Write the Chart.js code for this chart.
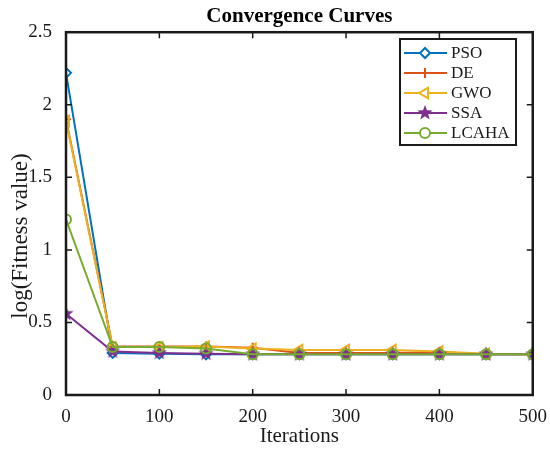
<!DOCTYPE html>
<html>
<head>
<meta charset="utf-8">
<script src="https://cdn.jsdelivr.net/npm/chart.js@4"></script>
<style>
  html, body { margin: 0; padding: 0; background: #fff; }
  #wrap { width: 550px; height: 450px; }
</style>
</head>
<body>
<div id="wrap"><canvas id="myChart" width="550" height="450"></canvas></div>
<script>
// iterations on x axis
const iterations = [0, 50, 100, 150, 200, 250, 300, 350, 400, 450, 500];

// log(fitness) per algorithm
const pso   = [2.22, 0.29, 0.285, 0.28, 0.28, 0.28, 0.28, 0.28, 0.28, 0.28, 0.28];
const de    = [1.90, 0.335, 0.335, 0.335, 0.325, 0.29, 0.29, 0.29, 0.295, 0.28, 0.28];
const gwo   = [1.89, 0.33, 0.33, 0.335, 0.32, 0.31, 0.31, 0.31, 0.30, 0.285, 0.28];
const ssa   = [0.56, 0.30, 0.29, 0.285, 0.28, 0.28, 0.28, 0.28, 0.28, 0.28, 0.28];
const lcaha = [1.21, 0.33, 0.33, 0.32, 0.28, 0.28, 0.28, 0.28, 0.28, 0.28, 0.28];

const seriesNames = ['PSO', 'DE', 'GWO', 'SSA', 'LCAHA'];
const yTicks = [0, 0.5, 1, 1.5, 2, 2.5];
const xTicks = [0, 100, 200, 300, 400, 500];
const yTitle = 'log(Fitness value)';

const FONT = '"Liberation Serif", "Times New Roman", serif';

// filled pentagram marker for SSA
function makeStar(color, r) {
  const c = document.createElement('canvas');
  const s = r * 2 + 2;
  c.width = s; c.height = s;
  const g = c.getContext('2d');
  g.fillStyle = color;
  g.beginPath();
  for (let i = 0; i < 10; i++) {
    const rad = i % 2 === 0 ? r : r * 0.42;
    const a = -Math.PI / 2 + i * Math.PI / 5;
    const px = s / 2 + rad * Math.cos(a);
    const py = s / 2 + rad * Math.sin(a);
    if (i === 0) g.moveTo(px, py); else g.lineTo(px, py);
  }
  g.closePath();
  g.fill();
  return c;
}
const starImg = makeStar('#7E2F8E', 8);

function pts(arr) {
  return arr.map((v, i) => ({ x: iterations[i], y: v }));
}

const styles = [
  { color: '#0072BD', pointStyle: 'rectRot', radius: 5, rotation: 0 },
  { color: '#D95319', pointStyle: 'cross', radius: 5, rotation: 0 },
  { color: '#EDB120', pointStyle: 'triangle', radius: 6, rotation: -90 },
  { color: '#7E2F8E', pointStyle: starImg, radius: 8, rotation: 0 },
  { color: '#77AC30', pointStyle: 'circle', radius: 5, rotation: 0 }
];
const values = [pso, de, gwo, ssa, lcaha];

const datasets = values.map((v, i) => ({
  label: seriesNames[i],
  data: pts(v),
  borderColor: styles[i].color,
  backgroundColor: 'rgba(0,0,0,0)',
  pointBorderColor: styles[i].color,
  pointBackgroundColor: 'rgba(0,0,0,0)',
  pointStyle: styles[i].pointStyle,
  pointRadius: styles[i].radius,
  pointRotation: styles[i].rotation,
  pointBorderWidth: 2,
  borderWidth: 2,
  tension: 0,
  order: 5 - i
}));

// frame with inward ticks (matlab look) + y label
const frame = {
  id: 'frame',
  afterDatasetsDraw(chart) {
    const { ctx, chartArea: a, scales } = chart;
    ctx.save();
    ctx.strokeStyle = '#1a1a1a';
    ctx.lineWidth = 1.5;
    ctx.beginPath();
    xTicks.forEach(t => {
      const x = scales.x.getPixelForValue(t);
      ctx.moveTo(x, a.bottom); ctx.lineTo(x, a.bottom - 6);
      ctx.moveTo(x, a.top); ctx.lineTo(x, a.top + 6);
    });
    yTicks.forEach(t => {
      const y = scales.y.getPixelForValue(t);
      ctx.moveTo(a.left, y); ctx.lineTo(a.left + 6, y);
      ctx.moveTo(a.right, y); ctx.lineTo(a.right - 6, y);
    });
    ctx.stroke();
    ctx.lineWidth = 2.5;
    ctx.strokeRect(a.left, a.top, a.right - a.left, a.bottom - a.top);

    // y axis label, sits a bit below the middle like in the figure
    ctx.translate(21, 236);
    ctx.rotate(-Math.PI / 2);
    ctx.fillStyle = '#1a1a1a';
    ctx.font = '23px ' + FONT;
    ctx.textAlign = 'center';
    ctx.textBaseline = 'middle';
    ctx.fillText(yTitle, 0, 0);
    ctx.restore();
  }
};

// legend box in the upper right corner
const boxLegend = {
  id: 'boxLegend',
  afterDraw(chart) {
    const { ctx } = chart;
    const bx = 400, by = 39, bw = 116, bh = 106;
    ctx.save();
    ctx.fillStyle = '#fff';
    ctx.fillRect(bx, by, bw, bh);
    ctx.strokeStyle = '#1a1a1a';
    ctx.lineWidth = 2;
    ctx.strokeRect(bx, by, bw, bh);
    chart.data.datasets.forEach((ds, i) => {
      const y = by + 14 + i * 20;
      ctx.strokeStyle = ds.borderColor;
      ctx.lineWidth = 2;
      ctx.beginPath();
      ctx.moveTo(bx + 4, y); ctx.lineTo(bx + 47, y);
      ctx.stroke();
      ctx.fillStyle = '#fff';
      Chart.helpers.drawPoint(ctx, {
        pointStyle: ds.pointStyle,
        radius: ds.pointRadius,
        rotation: ds.pointRotation,
        borderWidth: 2
      }, bx + 25, y);
      ctx.fillStyle = '#1a1a1a';
      ctx.font = '17px ' + FONT;
      ctx.textBaseline = 'middle';
      ctx.fillText(ds.label, bx + 51, y + 1);
    });
    ctx.restore();
  }
};

const ctx = document.getElementById('myChart').getContext('2d');
const myChart = new Chart(ctx, {
  type: 'line',
  data: { datasets: datasets },
  options: {
    responsive: false,
    animation: false,
    layout: { padding: { left: 0, right: 15, top: 0, bottom: 0 } },
    plugins: {
      legend: { display: false },
      tooltip: { enabled: false },
      title: {
        display: true,
        text: 'Convergence Curves',
        color: '#000',
        fullSize: false,
        font: { family: FONT, size: 21, weight: 'bold' },
        padding: { top: 4, bottom: 3 }
      }
    },
    scales: {
      x: {
        type: 'linear',
        min: 0, max: 500,
        afterBuildTicks(scale) { scale.ticks = xTicks.map(v => ({ value: v })); },
        afterFit(scale) { scale.height = 55; },
        grid: { display: false },
        border: { display: false },
        ticks: { color: '#1a1a1a', padding: 3, maxRotation: 0, font: { family: FONT, size: 19 } },
        title: { display: true, text: 'Iterations', color: '#1a1a1a', padding: { top: 0, bottom: 1 }, font: { family: FONT, size: 21 } }
      },
      y: {
        min: 0, max: 2.5,
        afterBuildTicks(scale) { scale.ticks = yTicks.map(v => ({ value: v })); },
        afterFit(scale) { scale.width = 66; },
        grid: { display: false },
        border: { display: false },
        ticks: {
          color: '#1a1a1a', padding: 6, font: { family: FONT, size: 19 },
          callback: v => String(v)
        },
        title: { display: false }
      }
    }
  },
  plugins: [frame, boxLegend]
});
</script>
</body>
</html>
